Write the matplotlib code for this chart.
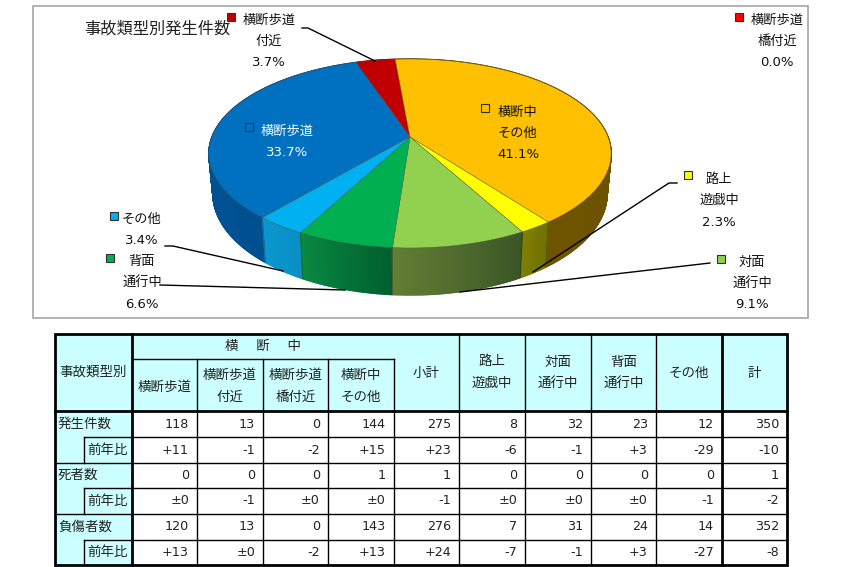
"""Accident type pie chart with summary table."""
import numpy as np
import matplotlib
matplotlib.use("Agg")
import matplotlib.pyplot as plt
from matplotlib.patches import Polygon, Rectangle

plt.rcParams['font.family'] = ['DejaVu Sans', 'Noto Sans CJK JP']

# pie data, clockwise from the blue slice
slice_names = ['横断歩道', '横断歩道\n付近', '横断歩道\n橋付近', '横断中\nその他',
               '路上\n遊戯中', '対面\n通行中', '背面\n通行中', 'その他']
slice_counts = [118, 13, 0, 144, 8, 32, 23, 12]
slice_pcts = ['33.7%', '3.7%', '0.0%', '41.1%', '2.3%', '9.1%', '6.6%', '3.4%']

# table data
head_top = '横　 断　 中'
head_cross = ['横断歩道', '横断歩道\n付近', '横断歩道\n橋付近', '横断中\nその他']
head_rest = ['小計', '路上\n遊戯中', '対面\n通行中', '背面\n通行中', 'その他', '計']
row_names = ['発生件数', '前年比', '死者数', '前年比', '負傷者数', '前年比']
row_occurred = ['118', '13', '0', '144', '275', '8', '32', '23', '12', '350']
row_occurred_diff = ['+11', '-1', '-2', '+15', '+23', '-6', '-1', '+3', '-29', '-10']
row_deaths = ['0', '0', '0', '1', '1', '0', '0', '0', '0', '1']
row_deaths_diff = ['±0', '-1', '±0', '±0', '-1', '±0', '±0', '±0', '-1', '-2']
row_injured = ['120', '13', '0', '143', '276', '7', '31', '24', '14', '352']
row_injured_diff = ['+13', '±0', '-2', '+13', '+24', '-7', '-1', '+3', '-27', '-8']

# styling
top_colors = ['#0070c0', '#c00000', '#ff0000', '#ffc000', '#ffff00', '#92d050', '#00b050', '#00b0f0']
side_left = ['#00569a', '#800000', '#a00000', '#6e5400', '#7f7f00', '#647e35', '#0a8a42', '#0a98cf']
side_right = ['#005090', '#800000', '#a00000', '#665000', '#6f7000', '#3a5525', '#005f2f', '#0a8fc5']
marker_colors = ['#0070c0', '#c00000', '#ff0000', '#ffc000', '#ffff00', '#92d050', '#00b050', '#00b0f0']
label_xy = [(287, 131), (269, 20), (777, 20), (518, 112), (719, 179), (752, 262), (142, 261), (142, 219)]
marker_xy = [(249, 127), (231, 17), (739, 17), (485, 108), (688, 175), (721, 259), (110, 258), (114, 216)]
leaders = [((302, 28), (308, 28), (375, 61)),
           ((165, 246), (173, 246), (283, 271)),
           ((160, 285), (345, 290)),
           ((677, 183), (669, 183), (533, 272)),
           ((710, 263), (460, 292))]
start_angle = -139.8  # degrees clockwise from straight up
col_x = [132, 197, 263, 328, 394, 459, 525, 591, 656, 722, 787]
row_y = [411, 437, 463, 488, 514, 540, 565]


def project(theta, lower=False):
    """Perspective projection of a rim point of the pie, in pixels."""
    cx, cy, a, b, k, depth = 410, 137, 198, 91.6, 0.1746, 38.8
    u, v = np.sin(theta), np.cos(theta)
    w = 1 + k * v
    if lower:
        return cx + 0.98 * a * u / w, cy + (depth - b * v) / w
    return cx + a * u / w, cy - b * v / w


def draw_pie(ax):
    """Side strips first, back to front, then the top faces."""
    edges = np.radians(start_angle + np.cumsum([0] + slice_counts) / sum(slice_counts) * 360)
    strips = []
    for i in range(len(slice_counts)):
        if slice_counts[i] == 0:
            continue
        t = np.linspace(edges[i], edges[i + 1], max(int(slice_counts[i] * 4), 8))
        c0 = np.array(matplotlib.colors.to_rgb(side_left[i]))
        c1 = np.array(matplotlib.colors.to_rgb(side_right[i]))
        for j in range(len(t) - 1):
            # clockwise runs right to left along the front of the pie
            f = 1 - j / max(len(t) - 2, 1)
            strips.append((t[j], t[j + 1], c0 * (1 - f) + c1 * f))
    strips.sort(key=lambda s: -np.cos((s[0] + s[1]) / 2))
    for t0, t1, col in strips:
        tt = np.array([t0, t1])
        x0, y0 = project(tt)
        x1, y1 = project(tt, lower=True)
        ax.add_patch(Polygon(list(zip(x0, y0)) + list(zip(x1[::-1], y1[::-1])),
                             fc=col, ec=col, lw=1.0, zorder=2))
    # dividers on the visible side
    for i in range(len(edges) - 1):
        if np.cos(edges[i]) < -0.2:
            x0, y0 = project(edges[i])
            x1, y1 = project(edges[i], lower=True)
            ax.plot([x0, x1], [y0, y1], color='#303020', lw=0.5, alpha=0.6, zorder=3)
    for i in range(len(slice_counts)):
        if slice_counts[i] == 0:
            continue
        t = np.linspace(edges[i], edges[i + 1], 80)
        x, y = project(t)
        pts = [(410, 137)] + list(zip(x, y))
        ax.add_patch(Polygon(pts, fc=top_colors[i], ec='#505040', lw=0.3, zorder=4))


def draw_labels(ax):
    """Data labels with their small legend keys and leader lines."""
    for i in range(len(slice_names)):
        lines = slice_names[i].split('\n') + [slice_pcts[i]]
        x, y = label_xy[i]
        color = 'white' if i == 0 else '#111111'
        for n, line in enumerate(lines):
            ax.text(x, y + n * 21.5, line, ha='center', va='center', fontsize=9.5,
                    color=color, zorder=6)
        mx, my = marker_xy[i]
        ax.add_patch(Rectangle((mx - 4, my - 4), 8, 8, fc=marker_colors[i],
                               ec='#303030', lw=0.8, zorder=6))
    for pts in leaders:
        ax.plot(*zip(*pts), color='black', lw=1.0, zorder=5)


def draw_table(ax):
    """Summary table below the pie."""
    cyan = '#ccffff'
    left, right, top, mid, bottom = 55, 787, 334, 359, 565
    ax.add_patch(Rectangle((left, top), right - left, row_y[0] - top, fc=cyan, ec='none'))
    ax.add_patch(Rectangle((left, row_y[0]), col_x[0] - left, bottom - row_y[0], fc=cyan, ec='none'))

    # grid
    for x in col_x[1:5]:
        ax.plot([x, x], [mid, bottom], color='black', lw=1.0)
    for x in col_x[5:9]:
        ax.plot([x, x], [top, bottom], color='black', lw=1.0)
    for x in [col_x[0], col_x[9]]:
        ax.plot([x, x], [top, bottom], color='black', lw=2.0)
    ax.plot([col_x[0], col_x[4]], [mid, mid], color='black', lw=1.0)
    ax.plot([left, right], [row_y[0], row_y[0]], color='black', lw=2.0)
    for n in [1, 2, 3, 4, 5]:
        x0 = left if n % 2 == 0 else 84
        ax.plot([x0, right], [row_y[n], row_y[n]], color='black', lw=1.0)
    for n in [0, 2, 4]:
        ax.plot([84, 84], [row_y[n + 1], row_y[n + 2]], color='black', lw=1.0)
    ax.add_patch(Rectangle((left, top), right - left, bottom - top, fc='none', ec='black', lw=2.0, zorder=3))

    # headers
    kw = dict(ha='center', va='center', fontsize=9.7, color='#222222')
    ax.text(93, 372, '事故類型別', **kw)
    ax.text(263, 346, head_top, **kw)
    for i in range(len(head_cross)):
        cx = (col_x[i] + col_x[i + 1]) / 2
        lines = head_cross[i].split('\n')
        ys = [387] if len(lines) == 1 else [375, 397]
        for line, y in zip(lines, ys):
            ax.text(cx, y, line, **kw)
    for i in range(len(head_rest)):
        cx = (col_x[i + 4] + col_x[i + 5]) / 2
        lines = head_rest[i].split('\n')
        ys = [373] if len(lines) == 1 else [362, 383]
        for line, y in zip(lines, ys):
            ax.text(cx, y, line, **kw)

    # body
    rows = [row_occurred, row_occurred_diff, row_deaths, row_deaths_diff, row_injured, row_injured_diff]
    for r in range(len(rows)):
        y = (row_y[r] + row_y[r + 1]) / 2
        if r % 2 == 0:
            ax.text(58, y, row_names[r], ha='left', va='center', fontsize=9.7, color='#222222')
        else:
            ax.text(108, y, row_names[r], **kw)
        for c in range(len(rows[r])):
            ax.text(col_x[c + 1] - 8, y, rows[r][c], ha='right', va='center',
                    fontsize=9.2, color='#222222', zorder=4)


fig = plt.figure(figsize=(8.42, 5.67), dpi=100)
ax = fig.add_axes([0, 0, 1, 1])
ax.set_xlim(0, 842)
ax.set_ylim(567, 0)
ax.axis('off')

ax.add_patch(Rectangle((32.5, 6), 775.5, 312, fc='white', ec='#a6a6a6', lw=1.2))
ax.text(84, 29, '事故類型別発生件数', ha='left', va='center', fontsize=11.7, color='#222222', zorder=6)
draw_pie(ax)
draw_labels(ax)
draw_table(ax)

fig.savefig('out.png', dpi=100)
